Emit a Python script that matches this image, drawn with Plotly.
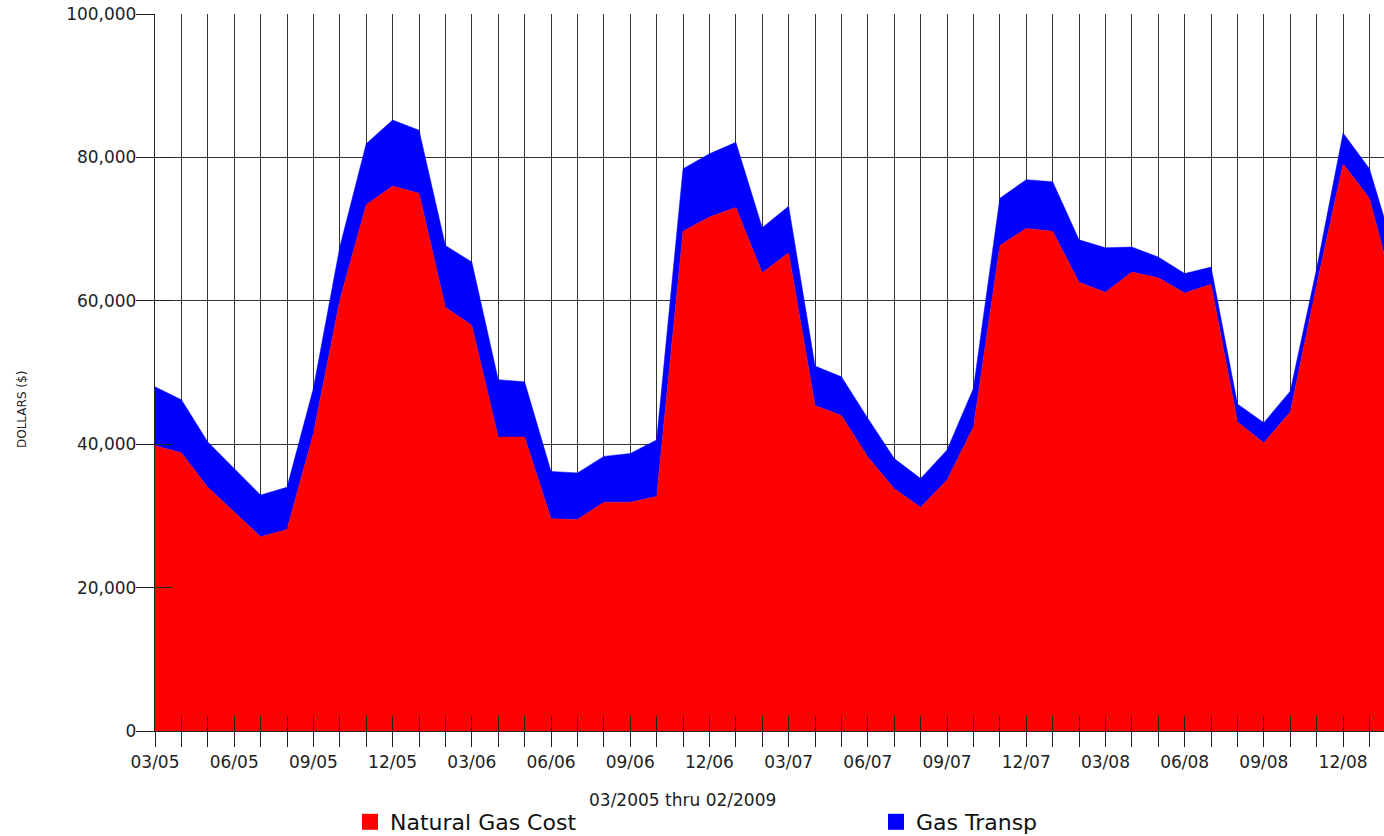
import plotly.graph_objects as go

months = ["03/05","04/05","05/05","06/05","07/05","08/05","09/05","10/05","11/05","12/05","01/06","02/06",
          "03/06","04/06","05/06","06/06","07/06","08/06","09/06","10/06","11/06","12/06","01/07","02/07",
          "03/07","04/07","05/07","06/07","07/07","08/07","09/07","10/07","11/07","12/07","01/08","02/08",
          "03/08","04/08","05/08","06/08","07/08","08/08","09/08","10/08","11/08","12/08","01/09","02/09"]

natural_gas_cost = [39800, 38800, 34000, 30500, 27100, 28100, 41500, 60100, 73400, 76000, 75000, 59100,
                    56600, 41000, 41000, 29600, 29500, 31900, 31900, 32700, 69700, 71700, 73000, 63900,
                    66700, 45400, 44000, 38200, 33800, 31200, 35000, 42400, 67700, 70100, 69700, 62600,
                    61200, 64000, 63200, 61100, 62300, 43100, 40200, 44500, 62200, 79100, 74300, 60300]

gas_transp = [8200, 7400, 6300, 6100, 5800, 5900, 6300, 7400, 8500, 9200, 8800, 8600,
              8800, 8000, 7700, 6600, 6500, 6400, 6800, 7900, 8700, 8800, 9100, 6300,
              6500, 5500, 5400, 5400, 4200, 4000, 4200, 5400, 6600, 6800, 6900, 5900,
              6200, 3500, 2900, 2700, 2400, 2500, 2800, 2900, 2300, 4300, 4100, 5800]

label_idx = list(range(0, len(months), 3))
label_text = [months[i] for i in label_idx]

x = list(range(len(months)))
FONT = "DejaVu Sans"
RED = "#FF0000"
BLUE = "#0000FF"

W, H = 1384, 836
ML, MT, MB = 155, 14, 105
PW = W - ML          # plot width in px
PH = H - MT - MB     # plot height in px

fig = go.Figure()
fig.add_trace(go.Scatter(x=x, y=natural_gas_cost, stackgroup="one", mode="lines",
                         line=dict(width=0.5, color=RED), fillcolor=RED,
                         name="Natural Gas Cost", showlegend=False, hoverinfo="skip"))
fig.add_trace(go.Scatter(x=x, y=gas_transp, stackgroup="one", mode="lines",
                         line=dict(width=0.5, color=BLUE), fillcolor=BLUE,
                         name="Gas Transp", showlegend=False, hoverinfo="skip"))
# legend entries (square swatches)
fig.add_trace(go.Scatter(x=[None], y=[None], mode="markers", name="Natural Gas Cost",
                         marker=dict(symbol="square", size=17, color=RED)))
fig.add_trace(go.Scatter(x=[None], y=[None], mode="markers", name="Gas Transp",
                         marker=dict(symbol="square", size=17, color=BLUE)))

xr = [0, 46.55]
fig.update_layout(
    width=W, height=H,
    margin=dict(l=ML, r=0, t=MT, b=MB),
    paper_bgcolor="white", plot_bgcolor="white",
    font=dict(family=FONT, size=17, color="#222"),
    xaxis=dict(range=xr, tickmode="array", tickvals=label_idx, ticktext=label_text,
               ticks="outside", ticklen=15, tickcolor="#222", tickwidth=1.3,
               showgrid=True, gridcolor="#333", gridwidth=1.3,
               minor=dict(tickmode="linear", tick0=0, dtick=1, ticks="outside", ticklen=15,
                          tickcolor="#222", tickwidth=1.3, showgrid=True, gridcolor="#333", gridwidth=1.3),
               showline=True, linecolor="#222", linewidth=1.3, zeroline=False,
               tickfont=dict(family=FONT, size=17, color="#222")),
    xaxis2=dict(range=xr, overlaying="x", anchor="y", side="bottom", showticklabels=False,
                tickmode="linear", tick0=0, dtick=1, ticks="inside", ticklen=15,
                tickcolor="#222", tickwidth=1.3, showgrid=False, zeroline=False, showline=False),
    yaxis=dict(range=[0, 100000], tickmode="linear", tick0=0, dtick=20000, tickformat=",d",
               ticks="outside", ticklen=18, tickcolor="#222", tickwidth=1.3,
               showgrid=True, gridcolor="#333", gridwidth=1.3, ticklabelstandoff=-4,
               ticklabeloverflow="allow",
               showline=True, linecolor="#222", linewidth=1.3, zeroline=False,
               tickfont=dict(family=FONT, size=17, color="#222")),
    yaxis2=dict(range=[0, 100000], overlaying="y", anchor="x", side="left", showticklabels=False,
                tickmode="linear", tick0=0, dtick=20000, ticks="inside", ticklen=17,
                tickcolor="#222", tickwidth=1.3, showgrid=False, zeroline=False, showline=False),
    legend=dict(orientation="h", xref="container", yref="container", x=350/W,
                y=1-822/H, traceorder="normal",
                xanchor="left", yanchor="middle", entrywidthmode="pixels", entrywidth=481,
                font=dict(family=FONT, size=22, color="#111"), bgcolor="rgba(0,0,0,0)"),
    showlegend=True,
    annotations=[
        dict(text="03/2005 thru 02/2009", xref="paper", yref="paper", x=(682-155)/PW,
             y=-(800-731)/PH, xanchor="center", yanchor="middle", showarrow=False,
             font=dict(family=FONT, size=17, color="#222")),
        dict(text="DOLLARS ($)", xref="paper", yref="paper", x=-(155-22)/PW,
             y=(731-410)/PH, xanchor="center", yanchor="middle", textangle=-90, showarrow=False,
             font=dict(family=FONT, size=12, color="#222")),
    ],
)
# attach invisible trace so the overlay axes render
fig.add_trace(go.Scatter(x=[None], y=[None], xaxis="x2", yaxis="y2", showlegend=False, hoverinfo="skip"))

fig.write_html("out.html", config={"displayModeBar": False},
               post_script="document.body.style.margin='0';document.body.style.overflow='hidden';")
